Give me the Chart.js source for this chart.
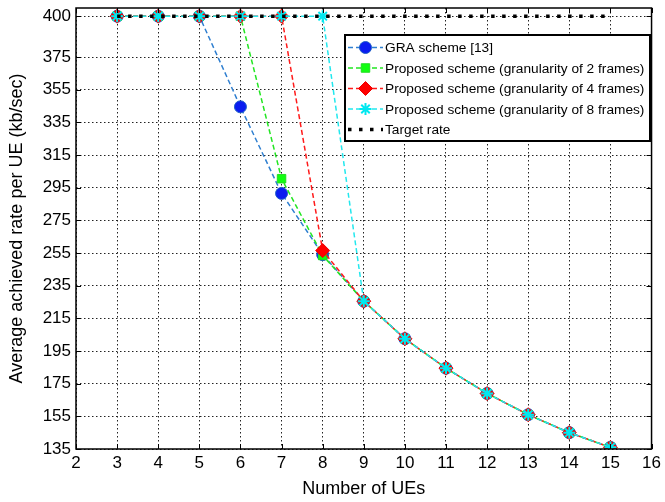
<!DOCTYPE html>
<html>
<head>
<meta charset="utf-8">
<script src="https://cdn.jsdelivr.net/npm/chart.js@4"></script>
<style>
  html, body { margin: 0; padding: 0; background: #fff; }
  #wrap { width: 665px; height: 502px; }
</style>
</head>
<body>
<div id="wrap"><canvas id="c" width="665" height="502"></canvas></div>
<script>
// dados
const ues = [3, 4, 5, 6, 7, 8, 9, 10, 11, 12, 13, 14, 15];
const gra = [400, 400, 400, 344.5, 291.5, 254, 225.5, 202.5, 184.5, 169, 156, 145, 136];
const gran2 = [400, 400, 400, 400, 300.5, 253.5, 225.5, 202.5, 184.5, 169, 156, 145, 136];
const gran4 = [400, 400, 400, 400, 400, 256.5, 225.5, 202.5, 184.5, 169, 156, 145, 136];
const gran8 = [400, 400, 400, 400, 400, 400, 225.5, 202.5, 184.5, 169, 156, 145, 136];
const target = [400, 400, 400, 400, 400, 400, 400, 400, 400, 400, 400, 400, 400];
const yTicks = [135, 155, 175, 195, 215, 235, 255, 275, 295, 315, 335, 355, 375, 400];
const labels = [
  'GRA scheme [13]',
  'Proposed scheme (granularity of 2 frames)',
  'Proposed scheme (granularity of 4 frames)',
  'Proposed scheme (granularity of 8 frames)',
  'Target rate'
];

const FONT = "'Liberation Sans', Arial, sans-serif";
const pts = arr => arr.map((v, i) => ({ x: ues[i], y: v }));

// moldura + marcas internas estilo MATLAB
const moldura = {
  id: 'moldura',
  afterDatasetsDraw(chart) {
    const { ctx, chartArea: a, scales } = chart;
    ctx.save();
    ctx.strokeStyle = '#000';
    ctx.lineWidth = 1;
    const tl = 5;
    ctx.beginPath();
    scales.x.ticks.forEach(t => {
      const px = Math.round(scales.x.getPixelForValue(t.value)) + 0.5;
      ctx.moveTo(px, a.bottom); ctx.lineTo(px, a.bottom - tl);
      ctx.moveTo(px, a.top); ctx.lineTo(px, a.top + tl);
    });
    scales.y.ticks.forEach(t => {
      const py = Math.round(scales.y.getPixelForValue(t.value)) + 0.5;
      ctx.moveTo(a.left, py); ctx.lineTo(a.left + tl, py);
      ctx.moveTo(a.right, py); ctx.lineTo(a.right - tl, py);
    });
    ctx.stroke();
    ctx.lineWidth = 1.5;
    ctx.strokeRect(a.left, a.top, a.right - a.left, a.bottom - a.top);
    ctx.restore();
  }
};

// legenda dentro da área do gráfico
const legendaInterna = {
  id: 'legendaInterna',
  afterDraw(chart) {
    const ctx = chart.ctx;
    const box = { x: 345, y: 35, w: 305, h: 106 };
    ctx.save();
    ctx.fillStyle = '#fff';
    ctx.fillRect(box.x, box.y, box.w, box.h);
    ctx.strokeStyle = '#000';
    ctx.lineWidth = 2;
    ctx.strokeRect(box.x, box.y, box.w, box.h);
    ctx.font = '13.7px ' + FONT;
    ctx.textBaseline = 'middle';
    chart.data.datasets.forEach((ds, i) => {
      const y = box.y + 12.5 + i * 20.5;
      const x0 = box.x + 3, x1 = box.x + 38, xm = (x0 + x1) / 2;
      ctx.save();
      ctx.strokeStyle = ds.borderColor;
      ctx.lineWidth = ds.borderWidth;
      ctx.setLineDash(ds.borderDash || []);
      ctx.beginPath();
      ctx.moveTo(x0, y); ctx.lineTo(x1, y);
      ctx.stroke();
      ctx.restore();
      if (ds.pointRadius > 0) {
        ctx.save();
        ctx.fillStyle = ds.pointBackgroundColor;
        ctx.strokeStyle = ds.pointBorderColor;
        ctx.lineWidth = ds.pointBorderWidth;
        Chart.helpers.drawPoint(ctx, { pointStyle: ds.pointStyle, radius: ds.pointRadius, borderWidth: ds.pointBorderWidth, rotation: 0 }, xm, y);
        ctx.restore();
      }
      ctx.fillStyle = '#000';
      ctx.fillText(ds.label, box.x + 40, y + 1);
    });
    ctx.restore();
  }
};

new Chart(document.getElementById('c'), {
  type: 'line',
  data: {
    datasets: [
      { label: labels[0], data: pts(gra), borderColor: '#2f7fd0', borderWidth: 1.5, borderDash: [5, 3],
        pointStyle: 'circle', pointRadius: 6, pointBackgroundColor: '#0a1cf0', pointBorderColor: '#2060c8', pointBorderWidth: 1, order: 4 },
      { label: labels[1], data: pts(gran2), borderColor: '#22e622', borderWidth: 1.5, borderDash: [5, 3],
        pointStyle: 'rect', pointRadius: 6, pointBackgroundColor: '#11ff11', pointBorderColor: '#22dd22', pointBorderWidth: 1, order: 3 },
      { label: labels[2], data: pts(gran4), borderColor: '#ff1a1a', borderWidth: 1.5, borderDash: [5, 3],
        pointStyle: 'rectRot', pointRadius: 7, pointBackgroundColor: '#ff0000', pointBorderColor: '#ee0000', pointBorderWidth: 1, order: 2 },
      { label: labels[3], data: pts(gran8), borderColor: '#22e8ee', borderWidth: 1.5, borderDash: [5, 3],
        pointStyle: 'star', pointRadius: 6, pointBackgroundColor: '#00ffff', pointBorderColor: '#00e8f0', pointBorderWidth: 2, order: 1 },
      { label: labels[4], data: pts(target), borderColor: '#000', borderWidth: 3.5, borderDash: [3.5, 7.5],
        pointRadius: 0, order: 0 }
    ]
  },
  plugins: [moldura, legendaInterna],
  options: {
    responsive: false, animation: false,
    layout: { padding: { top: 7, right: 10, left: 0, bottom: 0 } },
    plugins: { legend: { display: false }, tooltip: { enabled: false } },
    elements: { line: { tension: 0 } },
    scales: {
      x: {
        type: 'linear', min: 2, max: 16,
        ticks: { stepSize: 1, color: '#000', font: { family: FONT, size: 17 }, padding: 4, maxRotation: 0 },
        grid: { color: '#222', lineWidth: 1, drawTicks: false },
        border: { display: false, dash: [1.5, 2.5] },
        title: { display: true, text: 'Number of UEs', color: '#000', font: { family: FONT, size: 18 }, padding: { top: 4, bottom: 2 } },
        afterFit: s => { s.height = 53; }
      },
      y: {
        type: 'linear', min: 135, max: 405,
        afterBuildTicks: s => { s.ticks = yTicks.map(v => ({ value: v })); },
        ticks: { color: '#000', font: { family: FONT, size: 17 }, padding: 5, autoSkip: false },
        grid: { color: '#222', lineWidth: 1, drawTicks: false },
        border: { display: false, dash: [1.5, 2.5] },
        title: { display: true, text: 'Average achieved rate per UE (kb/sec)', color: '#000', font: { family: FONT, size: 18 }, padding: { top: 6, bottom: 4 } },
        afterFit: s => { s.width = 76; s.paddingTop = 0; s.paddingBottom = 0; }
      }
    }
  }
});
</script>
</body>
</html>
